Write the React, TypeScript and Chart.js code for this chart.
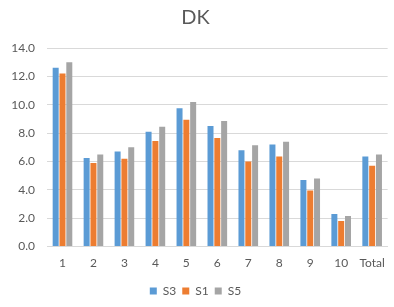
import React, { useEffect, useRef } from "react";
import { Chart, registerables } from "chart.js";

Chart.register(...registerables);

const categories = ["1", "2", "3", "4", "5", "6", "7", "8", "9", "10", "Total"];
const seriesS3 = [12.6, 6.25, 6.7, 8.1, 9.75, 8.5, 6.8, 7.2, 4.7, 2.3, 6.35];
const seriesS1 = [12.2, 5.9, 6.2, 7.45, 8.95, 7.65, 6.0, 6.35, 3.95, 1.8, 5.7];
const seriesS5 = [13.0, 6.5, 7.0, 8.45, 10.2, 8.85, 7.15, 7.4, 4.8, 2.15, 6.5];
const seriesNames = ["S3", "S1", "S5"];
const seriesColors = ["#5B9BD5", "#ED7D31", "#A5A5A5"];

const FONT = "Lato, 'Liberation Sans', sans-serif";
const TEXT = "#595959";
const GRID = "#D9D9D9";

export default function App() {
  const ref = useRef<HTMLCanvasElement | null>(null);

  useEffect(() => {
    document.body.style.margin = "0";
    if (!ref.current) return;
    const values = [seriesS3, seriesS1, seriesS5];
    const chart = new Chart(ref.current, {
      type: "bar",
      data: {
        labels: categories,
        datasets: values.map((v, i) => ({
          label: seriesNames[i],
          data: v,
          backgroundColor: seriesColors[i],
          borderWidth: 0,
          barPercentage: 0.88,
          categoryPercentage: 0.66,
        })),
      },
      options: {
        animation: false,
        responsive: false,
        maintainAspectRatio: false,
        layout: { padding: { top: 6, right: 3, left: 0, bottom: 0 } },
        plugins: {
          title: {
            display: true,
            text: "DK",
            color: TEXT,
            font: { family: FONT, size: 20, weight: "normal" },
            padding: { top: 0, bottom: 18 },
          },
          legend: {
            position: "bottom",
            labels: {
              color: TEXT,
              font: { family: FONT, size: 12 },
              boxWidth: 7,
              boxHeight: 7,
              padding: 6,
            },
          },
          tooltip: { enabled: false },
        },
        scales: {
          x: {
            grid: { display: false, drawTicks: false },
            border: { display: true, color: GRID, width: 1 },
            ticks: {
              color: TEXT,
              font: { family: FONT, size: 12 },
              padding: 9,
              maxRotation: 0,
              autoSkip: false,
            },
          },
          y: {
            min: 0,
            max: 14,
            afterFit: (scale: any) => {
              scale.width = 47;
            },
            grid: { color: GRID, drawTicks: false, lineWidth: 1 },
            border: { display: false },
            ticks: {
              stepSize: 2,
              color: TEXT,
              font: { family: FONT, size: 12 },
              padding: 12,
              callback: (v: any) => Number(v).toFixed(1),
            },
          },
        },
      },
    });
    return () => chart.destroy();
  }, []);

  return (
    <div style={{ width: 394, height: 307 }}>
      <canvas ref={ref} width={394} height={307} style={{ display: "block" }} />
    </div>
  );
}
